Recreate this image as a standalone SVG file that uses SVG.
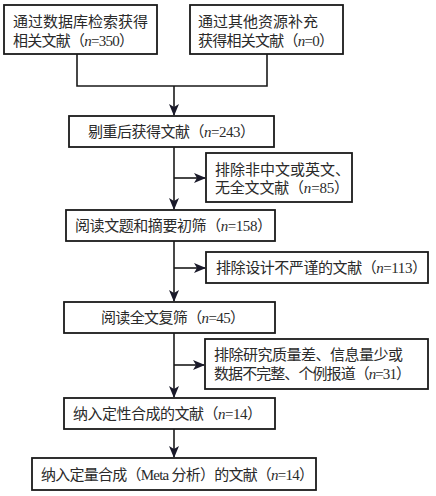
<svg xmlns="http://www.w3.org/2000/svg" width="436" height="496" viewBox="0 0 436 496">
<defs>
<style>
.box{fill:#fff;stroke:#1a1a1a;stroke-width:1.8}
.ln{fill:none;stroke:#1a1a1a;stroke-width:1.6}
text{font-family:"Liberation Serif","Noto Sans CJK SC",serif;font-size:15px;fill:#2a2a2a}
.n{font-style:italic}
</style>
<marker id="ah" viewBox="0 0 12 10" refX="11" refY="5" markerWidth="12" markerHeight="10" markerUnits="userSpaceOnUse" orient="auto">
<path d="M0,0 L12,5 L0,10 L3,5 z" fill="#1a1a2a"/>
</marker>
</defs>
<rect width="436" height="496" fill="#fff"/>
<g id="connectors">
<path class="ln" d="M77,54 V86 H267 V54"/>
<path class="ln" d="M174,86 V115" marker-end="url(#ah)"/>
<path class="ln" d="M174,147 V209" marker-end="url(#ah)"/>
<path class="ln" d="M174,178 H205" marker-end="url(#ah)"/>
<path class="ln" d="M174,241 V301" marker-end="url(#ah)"/>
<path class="ln" d="M174,268 H205" marker-end="url(#ah)"/>
<path class="ln" d="M174,333 V397" marker-end="url(#ah)"/>
<path class="ln" d="M174,365 H204" marker-end="url(#ah)"/>
<path class="ln" d="M174,429 V457" marker-end="url(#ah)"/>
</g>
<g id="n1"><rect class="box" x="4" y="5" width="153" height="49"/>
<text x="13" y="27">通过数据库检索获得</text>
<text x="13" y="46" textLength="121" lengthAdjust="spacing">相关文献（<tspan class="n">n</tspan>=350）</text></g>
<g id="n2"><rect class="box" x="190" y="5" width="153" height="49"/>
<text x="198" y="27">通过其他资源补充</text>
<text x="198" y="46" textLength="136" lengthAdjust="spacing">获得相关文献（<tspan class="n">n</tspan>=0）</text></g>
<g id="n3"><rect class="box" x="69" y="116" width="205" height="31"/>
<text x="88" y="137" textLength="167" lengthAdjust="spacing">剔重后获得文献（<tspan class="n">n</tspan>=243）</text></g>
<g id="n4"><rect class="box" x="206" y="153" width="146" height="49"/>
<text x="215" y="175">排除非中文或英文、</text>
<text x="215" y="193" textLength="134" lengthAdjust="spacing">无全文文献（<tspan class="n">n</tspan>=85）</text></g>
<g id="n5"><rect class="box" x="66" y="210" width="209" height="31"/>
<text x="75" y="231" textLength="197" lengthAdjust="spacing">阅读文题和摘要初筛（<tspan class="n">n</tspan>=158）</text></g>
<g id="n6"><rect class="box" x="206" y="252" width="222" height="31"/>
<text x="216" y="273" textLength="211" lengthAdjust="spacing">排除设计不严谨的文献（<tspan class="n">n</tspan>=113）</text></g>
<g id="n7"><rect class="box" x="64" y="302" width="211" height="31"/>
<text x="101" y="323" textLength="144" lengthAdjust="spacing">阅读全文复筛（<tspan class="n">n</tspan>=45）</text></g>
<g id="n8"><rect class="box" x="205" y="339" width="223" height="50"/>
<text x="214" y="360" textLength="189" lengthAdjust="spacing">排除研究质量差、信息量少或</text>
<text x="214" y="379" textLength="197" lengthAdjust="spacing">数据不完整、个例报道（<tspan class="n">n</tspan>=31）</text></g>
<g id="n9"><rect class="box" x="64" y="398" width="211" height="31"/>
<text x="73" y="419" textLength="189" lengthAdjust="spacing">纳入定性合成的文献（<tspan class="n">n</tspan>=14）</text></g>
<g id="n10"><rect class="box" x="32" y="458" width="284" height="32"/>
<text x="41" y="480" textLength="273" lengthAdjust="spacing">纳入定量合成（Meta 分析）的文献（<tspan class="n">n</tspan>=14）</text></g>
</svg>
